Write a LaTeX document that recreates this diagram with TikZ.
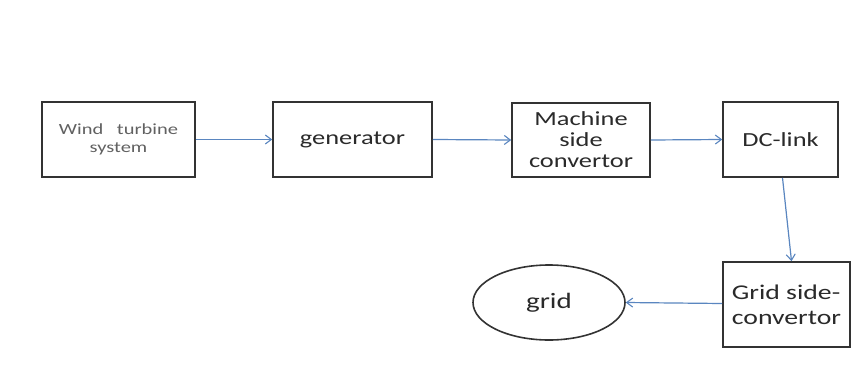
\documentclass[tikz,border=0pt]{standalone}
\usepackage{fontspec}
\setmainfont{Carlito}[FakeStretch=1.32]
\usetikzlibrary{arrows.meta,shapes.geometric}
\definecolor{arrowblue}{HTML}{5A86C0}
\definecolor{txt}{HTML}{2A2A2A}
\begin{document}
\begin{tikzpicture}[x=1pt,y=-1pt,
  box/.style={draw=black!80, line width=1.6pt, inner sep=0pt, text=txt},
  conn/.style={draw=arrowblue, line width=1.2pt, -{Straight Barb[length=6pt,width=9pt,line width=1.1pt]}}]
\useasboundingbox[fill=white] (0,0) rectangle (853,372);
\node[box, minimum width=153pt, minimum height=75pt, text=black!62, align=center,
  font=\fontsize{15.5}{18}\selectfont] (wind) at (118.5,139.5) {Wind\hspace{9pt} turbine\\system};
\node[box, minimum width=159pt, minimum height=75pt, font=\fontsize{20}{22}\selectfont] (gen) at (352.5,139.5) {generator};
\node[box, minimum width=138pt, minimum height=74pt, align=center, font=\fontsize{20}{21}\selectfont] (mach) at (581,140) {Machine\\side\\convertor};
\node[box, minimum width=115pt, minimum height=75pt, font=\fontsize{20}{22}\selectfont] (dc) at (780.5,139.5) {DC-link};
\node[box, minimum width=127pt, minimum height=85pt, align=left, font=\fontsize{21}{25}\selectfont] (gsc) at (786.5,304.5) {Grid side-\\convertor};
\node[ellipse, draw=black!80, line width=1.6pt, minimum width=152pt, minimum height=75pt, inner sep=0pt, text=txt,
  font=\fontsize{22}{24}\selectfont] (grid) at (549,302.5) {grid};
\draw[conn] (wind.east) -- (gen.west);
\draw[conn] (gen.east) -- (mach.west);
\draw[conn] (mach.east) -- (dc.west);
\draw[conn] ([xshift=2pt]dc.south) -- ([xshift=5pt]gsc.north);
\draw[conn] ([yshift=1pt]gsc.west) -- (grid.east);
\end{tikzpicture}
\end{document}
